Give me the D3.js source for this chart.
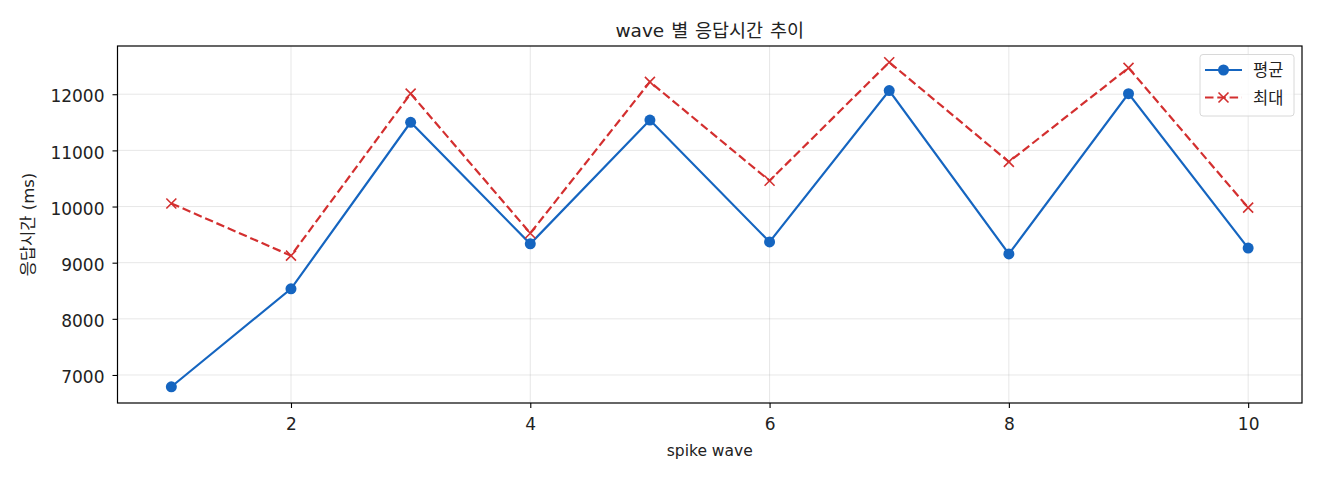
<!DOCTYPE html>
<html>
<head>
<meta charset="utf-8">
<script src="https://cdn.jsdelivr.net/npm/d3@7"></script>
<style>
	body { margin: 0; background: #fff; }
	svg text { font-family: "DejaVu Sans", "Noto Sans CJK KR", sans-serif; fill: #222; }
</style>
</head>
<body>
<div class="chart"></div>
<script>
/* global d3 */

// data
const waves = [1, 2, 3, 4, 5, 6, 7, 8, 9, 10];
const avgMs = [6790, 8535, 11500, 9335, 11540, 9370, 12065, 9155, 12010, 9260];
const maxMs = [10055, 9125, 12010, 9525, 12220, 10460, 12570, 10795, 12470, 9980];
const xTicks = [2, 4, 6, 8, 10];
const yTicks = [7000, 8000, 9000, 10000, 11000, 12000];
const seriesNames = ["평균", "최대"];

(function () {

	const widthSVG = 1320,
		heightSVG = 480;

	const left = 117.5, right = 1302, top = 46, bottom = 403;

	const blue = "#1565c0",
		red = "#d32f2f";

	const svg = d3.select(".chart").append("svg")
		.attr("width", widthSVG)
		.attr("height", heightSVG);

	// matplotlib style 5% margins
	const xPad = (d3.max(waves) - d3.min(waves)) * 0.05;
	const allY = avgMs.concat(maxMs);
	const yPad = (d3.max(allY) - d3.min(allY)) * 0.05;

	const x = d3.scaleLinear()
		.domain([d3.min(waves) - xPad, d3.max(waves) + xPad])
		.range([left, right]);
	const y = d3.scaleLinear()
		.domain([d3.min(allY) - yPad, d3.max(allY) + yPad])
		.range([bottom, top]);

	// grid
	svg.append("g").selectAll("line.gx")
		.data(xTicks).enter().append("line")
		.attr("x1", d => x(d)).attr("x2", d => x(d))
		.attr("y1", top).attr("y2", bottom)
		.attr("stroke", "#b0b0b0").attr("stroke-opacity", 0.3).attr("stroke-width", 1);
	svg.append("g").selectAll("line.gy")
		.data(yTicks).enter().append("line")
		.attr("x1", left).attr("x2", right)
		.attr("y1", d => y(d)).attr("y2", d => y(d))
		.attr("stroke", "#b0b0b0").attr("stroke-opacity", 0.3).attr("stroke-width", 1);

	// axes
	const xAxis = d3.axisBottom(x).tickValues(xTicks).tickSize(5).tickPadding(10);
	const yAxis = d3.axisLeft(y).tickValues(yTicks).tickSize(5).tickPadding(8).tickFormat(d3.format("d"));

	const gx = svg.append("g")
		.attr("transform", "translate(0," + bottom + ")")
		.call(xAxis);
	const gy = svg.append("g")
		.attr("transform", "translate(" + left + ",0)")
		.call(yAxis);
	[gx, gy].forEach(function (g) {
		g.select(".domain").remove();
		g.selectAll("line").attr("stroke", "#000").attr("stroke-width", 1.1);
		g.selectAll("text").attr("font-size", 17).attr("fill", "#222")
			.attr("font-family", "'DejaVu Sans', sans-serif");
	});
	gy.selectAll("text").attr("dy", "0.45em");

	// lines
	const lineAvg = d3.line()
		.x((d, i) => x(waves[i]))
		.y(d => y(d));

	svg.append("path")
		.datum(maxMs)
		.attr("fill", "none")
		.attr("stroke", red)
		.attr("stroke-width", 2.2)
		.attr("stroke-dasharray", "8.5,3.8")
		.attr("d", lineAvg);

	svg.append("path")
		.datum(avgMs)
		.attr("fill", "none")
		.attr("stroke", blue)
		.attr("stroke-width", 2.2)
		.attr("d", lineAvg);

	svg.append("g").selectAll("circle")
		.data(avgMs).enter().append("circle")
		.attr("cx", (d, i) => x(waves[i]))
		.attr("cy", d => y(d))
		.attr("r", 5.5)
		.attr("fill", blue);

	const cross = function (g, cx, cy) {
		const s = 5;
		g.append("path")
			.attr("d", "M" + (cx - s) + "," + (cy - s) + "L" + (cx + s) + "," + (cy + s) +
				"M" + (cx - s) + "," + (cy + s) + "L" + (cx + s) + "," + (cy - s))
			.attr("stroke", red)
			.attr("stroke-width", 1.6)
			.attr("fill", "none");
	};
	const gMax = svg.append("g");
	maxMs.forEach(function (d, i) {
		cross(gMax, x(waves[i]), y(d));
	});

	// frame
	svg.append("rect")
		.attr("x", left).attr("y", top)
		.attr("width", right - left).attr("height", bottom - top)
		.attr("fill", "none").attr("stroke", "#000").attr("stroke-width", 1.2);

	// title and labels
	svg.append("text")
		.attr("x", (left + right) / 2).attr("y", 37)
		.attr("text-anchor", "middle")
		.attr("font-size", 18.5)
		.attr("word-spacing", 1)
		.text("wave 별 응답시간 추이");

	svg.append("text")
		.attr("x", (left + right) / 2).attr("y", 456)
		.attr("text-anchor", "middle")
		.attr("font-size", 15.5)
		.text("spike wave");

	svg.append("text")
		.attr("transform", "translate(34," + ((top + bottom) / 2) + ") rotate(-90)")
		.attr("text-anchor", "middle")
		.attr("font-size", 16.5)
		.text("응답시간 (ms)");

	// legend
	const legend = svg.append("g");
	legend.append("rect")
		.attr("x", 1200).attr("y", 54.5)
		.attr("width", 94).attr("height", 61.5)
		.attr("rx", 3)
		.attr("fill", "#fff").attr("fill-opacity", 0.8)
		.attr("stroke", "#d8d8d8").attr("stroke-width", 1);

	const rowY = [70, 97.5];
	legend.append("line")
		.attr("x1", 1205).attr("x2", 1242).attr("y1", rowY[0]).attr("y2", rowY[0])
		.attr("stroke", blue).attr("stroke-width", 2.2);
	legend.append("circle")
		.attr("cx", 1223.5).attr("cy", rowY[0]).attr("r", 5.5).attr("fill", blue);
	legend.append("line")
		.attr("x1", 1205).attr("x2", 1242).attr("y1", rowY[1]).attr("y2", rowY[1])
		.attr("stroke", red).attr("stroke-width", 2.2)
		.attr("stroke-dasharray", "8.5,3.8");
	cross(legend, 1223.5, rowY[1]);

	legend.selectAll("text.lbl")
		.data(seriesNames).enter().append("text")
		.attr("x", 1253)
		.attr("y", (d, i) => rowY[i] + 6)
		.attr("font-size", 16.5)
		.text(d => d);

}());
</script>
</body>
</html>
